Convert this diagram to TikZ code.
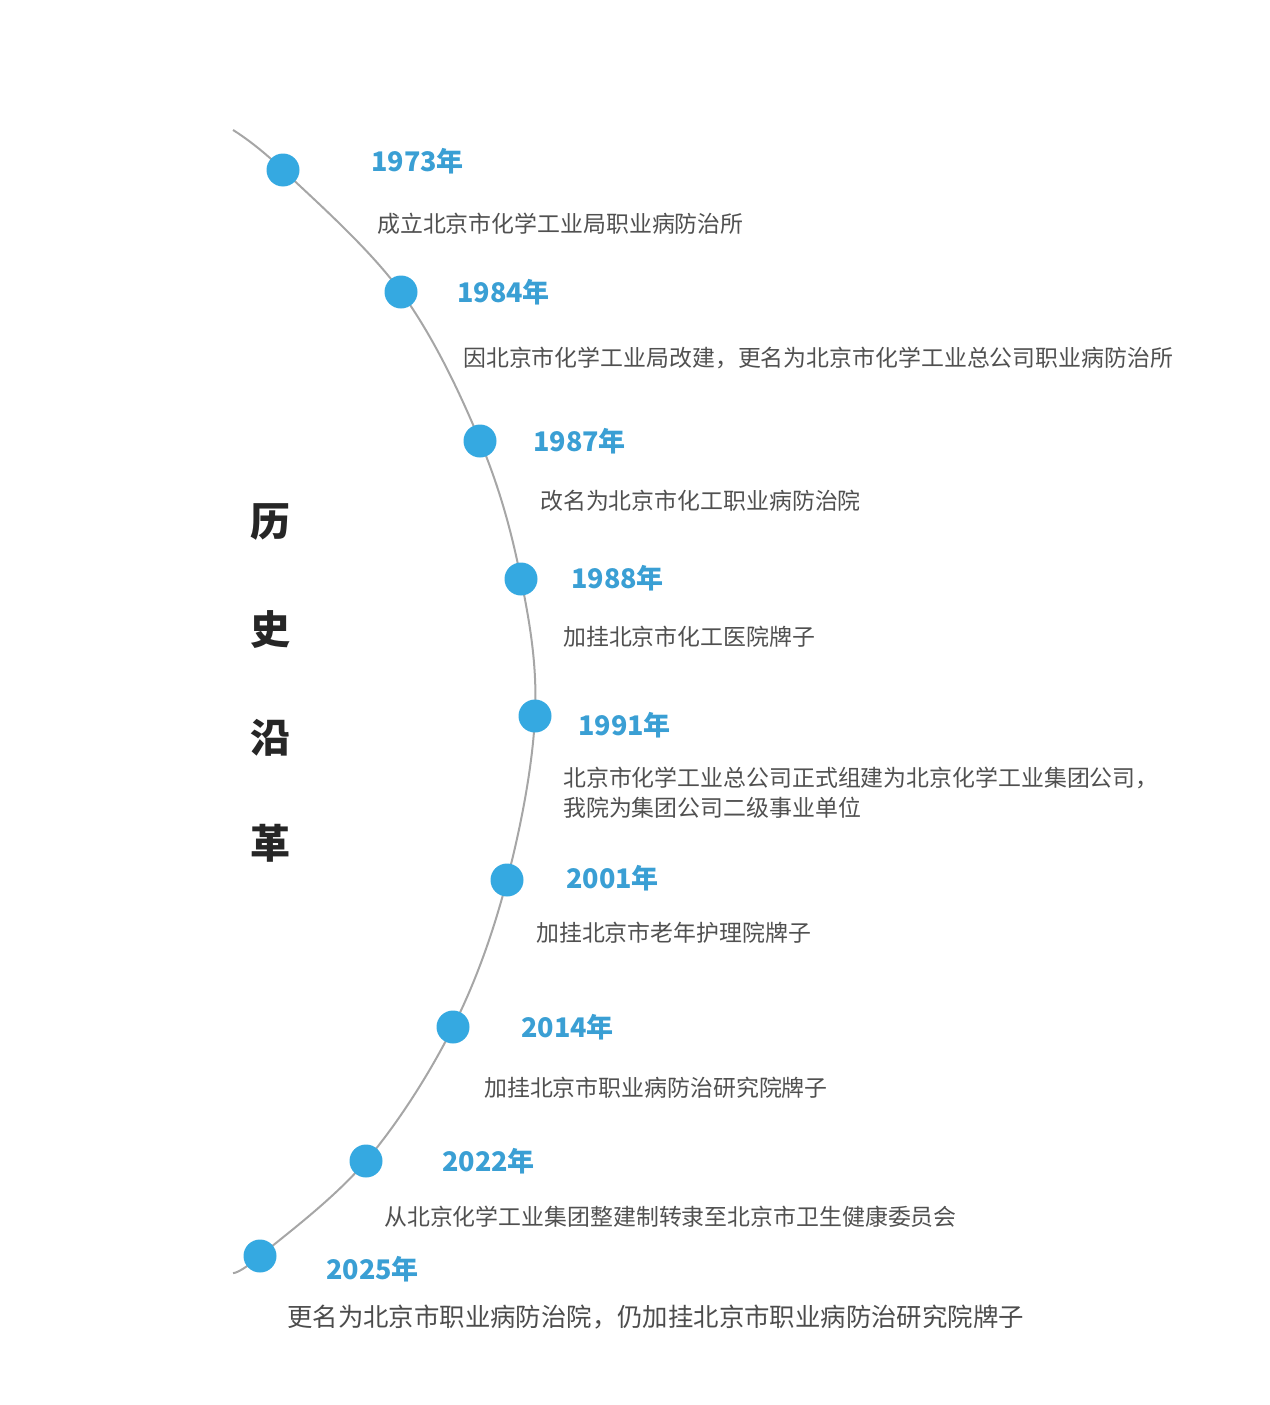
\documentclass[tikz,border=0pt]{standalone}
\usepackage{fontspec}
\newfontfamily\cjk{Noto Sans CJK SC}
\definecolor{blu}{HTML}{35A9E1}
\definecolor{yr}{HTML}{3A9FD4}
\definecolor{txt}{HTML}{505050}
\begin{document}
\begin{tikzpicture}[x=1pt,y=-1pt,
  dot/.style={circle,fill=blu,minimum size=33pt,inner sep=0pt},
  year/.style={anchor=west,inner sep=0pt,text=yr,font=\cjk\bfseries\fontsize{27}{30}\selectfont},
  desc/.style={anchor=west,inner sep=0pt,text=txt,font=\cjk\fontsize{22.9}{30}\selectfont,align=left},
  title/.style={inner sep=0pt,text=black!85,font=\cjk\bfseries\fontsize{40}{42}\selectfont}]
\useasboundingbox (0,0) rectangle (1269,1405);
\coordinate (s) at (233,130);
\coordinate (e) at (233,1273);
\draw[gray!70,line width=2pt] plot[smooth,tension=0.6] coordinates {(233,130) (283,170) (401,292) (480,441) (521,579) (535,716) (507,880) (453,1027) (366,1161) (260,1256) (233,1273)};
\foreach \n/\x/\y in {a/283/170,b/401/292,c/480/441,d/521/579,f/535/716,g/507/880,h/453/1027,i/366/1161,j/260/1256}
  \node[dot] (\n) at (\x,\y) {};
\node[year] (ya) at (371,161) {1973年};
\node[year] (yb) at (457,292) {1984年};
\node[year] (yc) at (533,441) {1987年};
\node[year] (yd) at (571,578) {1988年};
\node[year] (yf) at (578,725) {1991年};
\node[year] (yg) at (566,878) {2001年};
\node[year] (yh) at (521,1027) {2014年};
\node[year] (yi) at (442,1161) {2022年};
\node[year] (yj) at (326,1269) {2025年};
\node[desc] (da) at (377,224) {成立北京市化学工业局职业病防治所};
\node[desc] (db) at (463,358) {因北京市化学工业局改建，更名为北京市化学工业总公司职业病防治所};
\node[desc] (dc) at (540,501) {改名为北京市化工职业病防治院};
\node[desc] (dd) at (563,637) {加挂北京市化工医院牌子};
\node[desc] (df) at (563,793) {北京市化学工业总公司正式组建为北京化学工业集团公司，\\我院为集团公司二级事业单位};
\node[desc] (dg) at (536,933) {加挂北京市老年护理院牌子};
\node[desc] (dh) at (484,1088) {加挂北京市职业病防治研究院牌子};
\node[desc] (di) at (384,1217) {从北京化学工业集团整建制转隶至北京市卫生健康委员会};
\node[desc,font=\cjk\fontsize{25.4}{28}\selectfont,text=black!70] (dj) at (287,1317) {更名为北京市职业病防治院，仍加挂北京市职业病防治研究院牌子};
\node[title] (t1) at (270,522) {历};
\node[title] (t2) at (270,630) {史};
\node[title] (t3) at (270,738) {沿};
\node[title] (t4) at (270,843) {革};
\end{tikzpicture}
\end{document}
